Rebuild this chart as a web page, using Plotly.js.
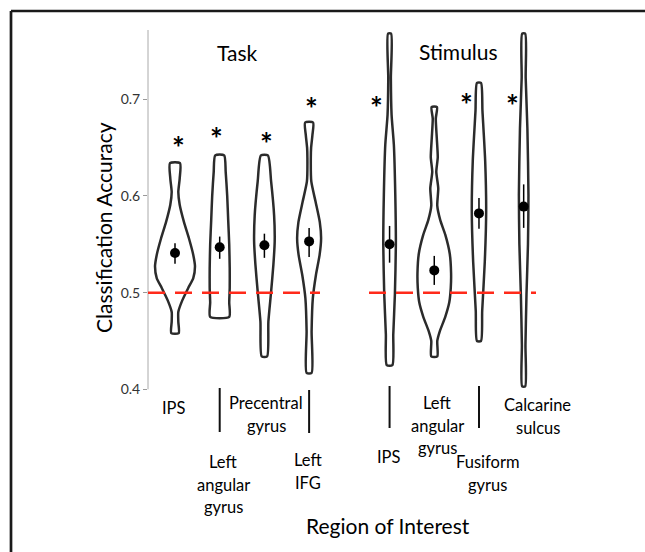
<!DOCTYPE html>
<html><head><meta charset="utf-8">
<script src="https://cdn.plot.ly/plotly-3.0.1.min.js"></script>
<style>html,body{margin:0;padding:0;background:#fff}#chart{width:645px;height:552px}</style>
</head><body><div id="chart"></div>
<script>
// ---------------- data ----------------
const categories = ["IPS", "Left<br>angular<br>gyrus", "Precentral<br>gyrus", "Left<br>IFG",
                    "IPS", "Left<br>angular<br>gyrus", "Fusiform<br>gyrus", "Calcarine<br>sulcus"];
const groupNames = ["Task", "Stimulus"];
const positions = [1, 2, 3, 4, 5.8, 6.8, 7.8, 8.8];
const means   = [0.541, 0.547, 0.549, 0.553, 0.550, 0.523, 0.582, 0.589];
const ciUpper = [0.551, 0.558, 0.561, 0.567, 0.569, 0.538, 0.598, 0.612];
const ciLower = [0.530, 0.535, 0.536, 0.537, 0.531, 0.508, 0.566, 0.567];
const sigY    = [0.658, 0.667, 0.662, 0.698, 0.699, null, 0.702, 0.701];
const chanceLevel = 0.5;
const yTickVals = [0.4, 0.5, 0.6, 0.7];
const yTickText = ["0.4", "0.5", "0.6", "0.7"];

// violin profiles: accuracy levels (top to bottom) and density half-widths (category units)
const taskIpsY = [0.634, 0.618, 0.604, 0.591, 0.573, 0.556, 0.539, 0.527, 0.515, 0.505, 0.492, 0.480, 0.470, 0.458];
const taskIpsW = [0.112, 0.105, 0.074, 0.105, 0.201, 0.313, 0.409, 0.447, 0.409, 0.298, 0.163, 0.074, 0.074, 0.083];
const taskLagY = [0.642, 0.625, 0.600, 0.575, 0.550, 0.525, 0.505, 0.490, 0.475];
const taskLagW = [0.100, 0.134, 0.168, 0.190, 0.213, 0.224, 0.224, 0.213, 0.213];
const taskPrecY = [0.642, 0.615, 0.580, 0.553, 0.529, 0.501, 0.470, 0.434];
const taskPrecW = [0.078, 0.150, 0.217, 0.230, 0.201, 0.150, 0.089, 0.060];
const taskIfgY = [0.676, 0.663, 0.650, 0.639, 0.615, 0.594, 0.573, 0.556, 0.539, 0.518, 0.494, 0.460, 0.417];
const taskIfgW = [0.089, 0.074, 0.045, 0.038, 0.049, 0.145, 0.239, 0.268, 0.235, 0.152, 0.083, 0.056, 0.056];
const stimIpsY = [0.768, 0.722, 0.684, 0.653, 0.601, 0.550, 0.498, 0.457, 0.425];
const stimIpsW = [0.034, 0.029, 0.045, 0.096, 0.128, 0.141, 0.119, 0.083, 0.063];
const stimLagY = [0.692, 0.680, 0.660, 0.640, 0.625, 0.608, 0.590, 0.575, 0.560, 0.540, 0.520, 0.505, 0.490, 0.475, 0.460, 0.450, 0.434];
const stimLagW = [0.060, 0.034, 0.056, 0.078, 0.045, 0.089, 0.067, 0.134, 0.246, 0.347, 0.376, 0.369, 0.336, 0.246, 0.123, 0.067, 0.067];
const stimFusY = [0.717, 0.688, 0.636, 0.584, 0.532, 0.481, 0.450];
const stimFusW = [0.045, 0.078, 0.139, 0.161, 0.130, 0.072, 0.045];
const stimCalY = [0.768, 0.722, 0.670, 0.601, 0.550, 0.498, 0.446, 0.403];
const stimCalW = [0.034, 0.045, 0.083, 0.107, 0.096, 0.063, 0.040, 0.034];

// ---------------- layout helpers ----------------
const FONT = "Lato, 'Open Sans', sans-serif";
const ML = 148, MT = 30, W = 645, H = 552;
const XR = [0.396, 11.514], YR = [0.2317, 0.7717];
const pxPerX = (W - ML) / (XR[1] - XR[0]);
const pxPerY = (H - MT) / (YR[1] - YR[0]);
const yFromPx = py => YR[1] - (py - MT) / pxPerY;
const xFromPx = px => XR[0] + (px - ML) / pxPerX;
const pxToPaperX = px => (px - ML) / (W - ML);
const pxToPaperY = py => 1 - (py - MT) / (H - MT);

const profilesY = [taskIpsY, taskLagY, taskPrecY, taskIfgY, stimIpsY, stimLagY, stimFusY, stimCalY];
const profilesW = [taskIpsW, taskLagW, taskPrecW, taskIfgW, stimIpsW, stimLagW, stimFusW, stimCalW];

const traces = [];
profilesY.forEach((ys, i) => {
  const ws = profilesW[i], c = positions[i];
  const xs = [], yy = [];
  for (let k = 0; k < ys.length; k++) { xs.push(c + ws[k]); yy.push(ys[k]); }
  for (let k = ys.length - 1; k >= 0; k--) { xs.push(c - ws[k]); yy.push(ys[k]); }
  xs.push(xs[0]); yy.push(yy[0]);
  traces.push({
    type: "scatter", mode: "lines", x: xs, y: yy,
    line: {color: "#2b2b2b", width: 2.5, shape: "spline", smoothing: 0.6},
    fill: "toself", fillcolor: "rgba(255,255,255,1)",
    hoverinfo: "skip", showlegend: false
  });
});
traces.push({
  type: "scatter", mode: "markers", x: positions, y: means,
  marker: {color: "#000", size: 10},
  error_y: {type: "data", symmetric: false,
            array: ciUpper.map((u, i) => u - means[i]),
            arrayminus: ciLower.map((l, i) => means[i] - l),
            color: "#000", thickness: 1.5, width: 0},
  hoverinfo: "skip", showlegend: false
});

// ---------------- shapes ----------------
const frameL = pxToPaperX(11), frameT = pxToPaperY(11);
const shapes = [
  {type: "line", xref: "paper", yref: "paper", x0: frameL, x1: 1.2, y0: frameT, y1: frameT,
   line: {color: "#1a1a1a", width: 2.7}},
  {type: "line", xref: "paper", yref: "paper", x0: frameL, x1: frameL, y0: frameT, y1: -0.2,
   line: {color: "#1a1a1a", width: 2.7}},
  {type: "line", xref: "paper", yref: "y", x0: 0, x1: 0, y0: yTickVals[0], y1: YR[1],
   line: {color: "#aaa", width: 1}},
  {type: "line", xref: "x", yref: "y", x0: XR[0], x1: xFromPx(320), y0: chanceLevel, y1: chanceLevel,
   line: {color: "#ff2a1a", width: 2.5, dash: "17px,10px"}},
  {type: "line", xref: "x", yref: "y", x0: xFromPx(369), x1: xFromPx(536), y0: chanceLevel, y1: chanceLevel,
   line: {color: "#ff2a1a", width: 2.5, dash: "17px,10px"}}
];
// stems connecting lower labels to their violins
const stemIdx = [1, 3, 4, 6];
const stemTop = [388, 390, 386, 386], stemBot = [432, 433, 428, 428];
stemIdx.forEach((ci, k) => {
  shapes.push({type: "line", xref: "x", yref: "y", x0: positions[ci], x1: positions[ci],
    y0: yFromPx(stemTop[k]), y1: yFromPx(stemBot[k]), line: {color: "#111", width: 2}});
});

// ---------------- annotations ----------------
const annotations = [];
const txt = (text, x, y, size, extra) => Object.assign({
  text, x, y, xref: "x", yref: "y", showarrow: false, xanchor: "center", yanchor: "middle",
  font: {family: FONT, size, color: "#000"}
}, extra || {});

annotations.push(txt(groupNames[0], xFromPx(237), yFromPx(52), 21));
annotations.push(txt(groupNames[1], xFromPx(458), yFromPx(51), 21));
annotations.push(txt("Region of Interest", xFromPx(388), yFromPx(525), 21));
annotations.push(Object.assign(txt("Classification Accuracy", 0, yFromPx(228), 21),
  {xref: "paper", x: pxToPaperX(103), textangle: -90}));

// category labels (one annotation per line)
const labelDxPx = [-1, 3.5, 2, -1, -1, 3, 9, 14];
const labelYPx = [408, 462, 403, 460, 457, 403, 462, 405];
const lineGap = 22.5;
categories.forEach((lab, i) => {
  lab.split("<br>").forEach((ln, k) => {
    annotations.push(txt(ln, positions[i] + labelDxPx[i] / pxPerX, yFromPx(labelYPx[i] + k * lineGap), 16.5));
  });
});

// significance stars
const starDxPx = [3, -3, 1.7, 2, -13, 0, -12.3, -11.3];
sigY.forEach((sy, i) => {
  if (sy === null) return;
  annotations.push(txt("*", positions[i] + starDxPx[i] / pxPerX, sy, 30,
    {yshift: -7, font: {family: FONT, size: 30, color: "#000", weight: "bold"}}));
});

const layout = {
  width: W, height: H,
  margin: {l: ML, r: 0, t: MT, b: 0, pad: 0},
  paper_bgcolor: "#fff", plot_bgcolor: "rgba(0,0,0,0)",
  showlegend: false,
  xaxis: {range: XR, visible: false, fixedrange: true},
  yaxis: {range: YR, tickvals: yTickVals, ticktext: yTickText, ticks: "outside", ticklen: 4,
          tickcolor: "#999", tickwidth: 1, showline: false, showgrid: false, zeroline: false,
          tickfont: {family: FONT, size: 14, color: "#333"}, fixedrange: true},
  shapes, annotations
};

Plotly.newPlot("chart", traces, layout, {staticPlot: true, displayModeBar: false});
</script>
</body></html>
